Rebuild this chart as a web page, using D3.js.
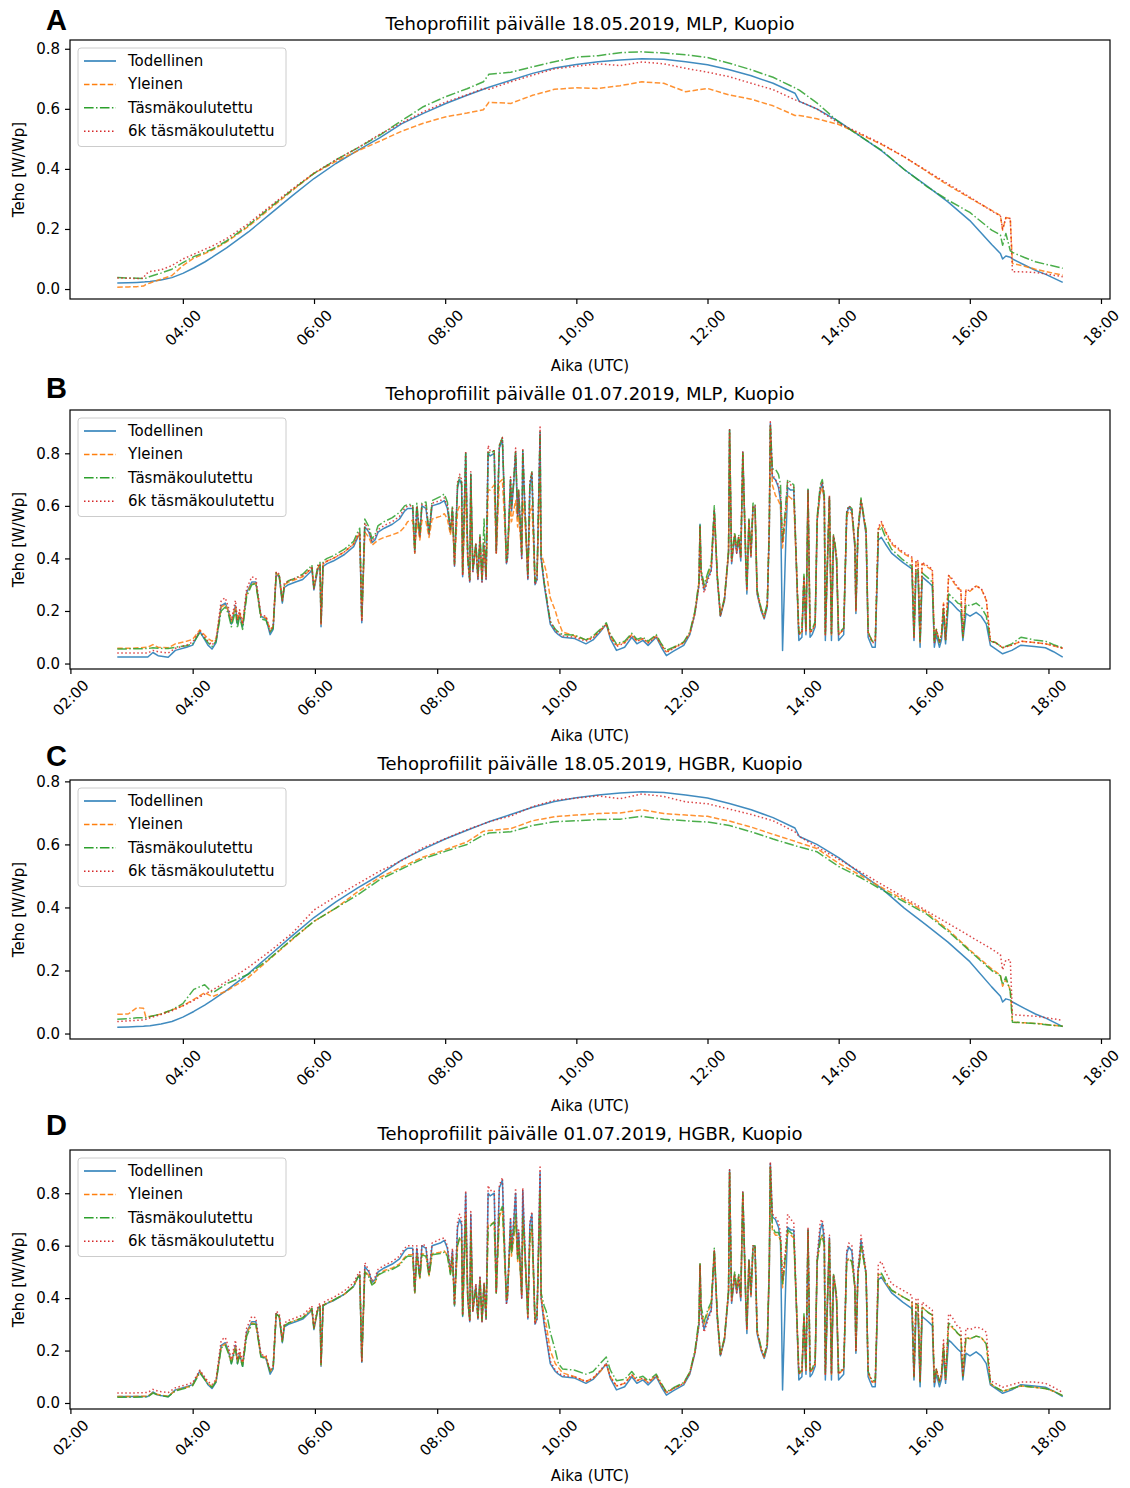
<!DOCTYPE html>
<html>
<head>
<meta charset="utf-8">
<script src="https://cdn.jsdelivr.net/npm/d3@7"></script>
<style>
  body { margin: 0; background: #fff; }
  svg { display: block; font-family: "DejaVu Sans", sans-serif; }
</style>
</head>
<body>
<div id="chart"></div>
<script>
// Series names (legend order = draw order)
const seriesNames = ['Todellinen', 'Yleinen', 'Täsmäkoulutettu', '6k täsmäkoulutettu'];
const seriesColors = ['#1f77b4', '#ff7f0e', '#2ca02c', '#d62728'];
const seriesDash = [null, '5.5,2.4', '9.6,2.4,1.5,2.4', '1.5,2.5'];

// 18.05.2019 (clear day)
const timesMay = ['03:00','03:10','03:18','03:24','03:26','03:30','03:40','03:50','04:00','04:10',
  '04:20','04:27','04:29','04:40','05:00','05:20','05:40','06:00','06:20','06:40',
  '07:00','07:20','07:40','08:00','08:20','08:35','08:40','09:00','09:20','09:40',
  '10:00','10:20','10:40','11:00','11:20','11:40','12:00','12:20','12:40','13:00',
  '13:20','13:24','13:40','14:00','14:20','14:40','15:00','15:20','15:40','16:00',
  '16:20','16:28','16:30','16:33','16:37','16:39','16:50','17:00','17:10','17:25'];

const todellinenMay = [.020,.021,.022,.023,.024,.025,.030,.038,.052,.070,
  .090,.106,.111,.137,.190,.250,.310,.368,.418,.462,
  .503,.550,.585,.617,.645,.665,.672,.695,.718,.736,
  .748,.757,.763,.767,.765,.757,.747,.730,.710,.685,
  .652,.625,.600,.558,.508,.458,.398,.345,.290,.228,
  .148,.118,.100,.110,.106,.100,.080,.062,.048,.022];

const yleinenMlpMay = [.006,.007,.008,.010,.015,.020,.033,.045,.078,.103,
  .118,.130,.134,.157,.208,.268,.328,.385,.425,.460,
  .492,.525,.552,.573,.586,.597,.622,.618,.645,.665,
  .670,.668,.677,.690,.685,.657,.668,.646,.632,.610,
  .578,.578,.567,.548,.515,.480,.440,.393,.346,.303,
  .262,.245,.196,.238,.235,.085,.076,.066,.058,.046];

const tasmaMlpMay = [.038,.037,.036,.035,.036,.042,.053,.066,.088,.108,
  .122,.133,.137,.160,.212,.272,.330,.385,.430,.470,
  .512,.560,.607,.640,.667,.690,.715,.722,.740,.757,
  .772,.777,.787,.790,.786,.780,.771,.752,.730,.705,
  .670,.662,.620,.556,.508,.460,.398,.343,.296,.255,
  .196,.180,.146,.185,.128,.122,.105,.091,.082,.069];

const tasma6kMlpMay = [.037,.036,.035,.036,.050,.058,.064,.078,.100,.116,
  .132,.143,.147,.168,.218,.276,.333,.386,.430,.470,
  .515,.553,.590,.622,.647,.668,.665,.690,.712,.733,
  .742,.750,.744,.756,.750,.735,.722,.707,.685,.664,
  .630,.625,.600,.552,.518,.482,.440,.395,.350,.306,
  .260,.243,.200,.237,.235,.058,.057,.055,.050,.041];

const yleinenHgbrMay = [.061,.062,.082,.080,.054,.054,.062,.075,.088,.108,
  .130,.117,.120,.135,.178,.238,.298,.356,.398,.450,
  .495,.528,.560,.583,.608,.642,.644,.650,.675,.688,
  .693,.698,.700,.710,.698,.693,.689,.674,.655,.632,
  .610,.605,.587,.540,.502,.462,.424,.385,.330,.265,
  .205,.185,.150,.171,.139,.036,.034,.032,.029,.023];

const tasmaHgbrMay = [.045,.047,.050,.050,.050,.054,.062,.075,.095,.140,
  .155,.130,.133,.158,.188,.240,.300,.356,.398,.440,
  .488,.522,.555,.578,.600,.630,.636,.640,.660,.672,
  .675,.679,.680,.689,.680,.675,.671,.660,.640,.617,
  .596,.592,.577,.530,.495,.455,.418,.380,.325,.262,
  .200,.183,.155,.180,.134,.036,.034,.032,.028,.023];

const tasma6kHgbrMay = [.038,.040,.042,.043,.045,.050,.060,.072,.088,.105,
  .125,.138,.142,.165,.210,.262,.318,.392,.435,.475,
  .515,.548,.590,.618,.647,.665,.672,.690,.720,.740,
  .747,.754,.745,.760,.752,.735,.729,.712,.695,.675,
  .640,.625,.592,.553,.513,.472,.431,.390,.350,.309,
  .268,.250,.202,.234,.234,.060,.057,.055,.050,.042];

// 01.07.2019 (broken clouds)
const timesJul = ['02:46','03:00','03:16','03:21','03:26','03:36','03:43','03:54','04:00','04:07',
  '04:15','04:19','04:23','04:28','04:32','04:35','04:38','04:42','04:44','04:46',
  '04:49','04:53','04:58','05:02','05:07','05:12','05:16','05:19','05:22','05:25',
  '05:28','05:30','05:34','05:41','05:48','05:56','05:57','05:59','06:03','06:05',
  '06:06','06:08','06:12','06:18','06:29','06:38','06:42','06:44','06:46','06:49',
  '06:53','06:56','06:59','07:02','07:08','07:16','07:23','07:28','07:31','07:36',
  '07:38','07:40','07:43','07:45','07:49','07:52','07:55','08:03','08:07','08:10',
  '08:13','08:15','08:17','08:20','08:22','08:24','08:25','08:28','08:30','08:32',
  '08:33','08:35','08:38','08:40','08:42','08:44','08:46','08:48','08:50','08:52',
  '08:56','08:58','09:01','09:04','09:08','09:09','09:12','09:13','09:15','09:17',
  '09:19','09:20','09:23','09:24','09:26','09:29','09:31','09:33','09:36','09:38',
  '09:41','09:42','09:45','09:47','09:51','09:56','09:59','10:03','10:15','10:26',
  '10:33','10:40','10:46','10:50','10:56','11:04','11:11','11:16','11:22','11:27',
  '11:35','11:40','11:45','11:52','12:02','12:08','12:13','12:17','12:18','12:19',
  '12:22','12:26','12:29','12:32','12:35','12:38','12:42','12:46','12:47','12:49',
  '12:52','12:54','12:56','12:58','13:00','13:03','13:04','13:06','13:08','13:10',
  '13:12','13:14','13:18','13:21','13:24','13:26','13:27','13:29','13:32','13:35',
  '13:37','13:39','13:42','13:44','13:47','13:50','13:53','13:55','13:58','14:00',
  '14:02','14:04','14:06','14:08','14:11','14:13','14:16','14:18','14:20','14:21',
  '14:23','14:25','14:27','14:29','14:30','14:32','14:34','14:39','14:42','14:44',
  '14:47','14:50','14:51','14:53','14:55','14:56','14:58','15:01','15:03','15:07',
  '15:10','15:13','15:16','15:20','15:26','15:37','15:46','15:48','15:50','15:52',
  '15:54','15:56','16:02','16:06','16:08','16:10','16:13','16:15','16:17','16:19',
  '16:22','16:25','16:31','16:34','16:36','16:39','16:43','16:49','16:54','16:59',
  '17:03','17:08','17:15','17:24','17:33','17:46','17:57','18:05','18:14'];

const todellinenJul = [.025,.025,.025,.042,.030,.024,.050,.062,.070,.122,
  .070,.055,.080,.220,.230,.200,.150,.220,.150,.190,
  .140,.270,.310,.310,.180,.170,.110,.130,.340,.330,
  .230,.290,.300,.310,.320,.350,.360,.280,.360,.370,
  .140,.370,.380,.390,.415,.445,.480,.490,.155,.520,
  .500,.460,.470,.500,.515,.530,.550,.580,.590,.590,
  .420,.590,.480,.600,.590,.490,.600,.610,.620,.590,
  .500,.580,.370,.670,.700,.680,.330,.800,.400,.310,
  .720,.350,.450,.320,.480,.310,.450,.320,.800,.790,
  .800,.420,.820,.850,.380,.400,.700,.580,.680,.800,
  .550,.650,.400,.810,.600,.320,.680,.720,.300,.320,
  .880,.400,.300,.250,.150,.120,.110,.100,.095,.075,
  .090,.120,.150,.094,.050,.062,.100,.075,.088,.069,
  .100,.062,.030,.047,.069,.110,.190,.300,.530,.350,
  .280,.330,.355,.580,.320,.180,.240,.420,.890,.380,
  .480,.420,.470,.390,.805,.367,.265,.545,.405,.595,
  .595,.265,.200,.170,.215,.510,.913,.710,.700,.670,
  .620,.050,.440,.670,.660,.660,.320,.088,.100,.320,
  .110,.660,.100,.110,.140,.545,.660,.685,.620,.088,
  .367,.630,.088,.480,.456,.390,.088,.110,.570,.595,
  .580,.440,.190,.500,.570,.620,.570,.490,.100,.062,
  .062,.470,.480,.455,.420,.385,.360,.088,.345,.340,
  .062,.330,.310,.295,.062,.110,.062,.090,.190,.075,
  .240,.230,.205,.195,.088,.190,.180,.195,.180,.150,
  .069,.056,.037,.050,.070,.065,.060,.045,.024];

const yleinenMlpJul = [.058,.058,.062,.072,.062,.060,.075,.085,.092,.128,
  .095,.085,.095,.215,.225,.200,.160,.215,.160,.195,
  .150,.265,.305,.305,.180,.175,.130,.140,.345,.330,
  .240,.300,.310,.320,.330,.360,.365,.290,.365,.375,
  .150,.380,.390,.400,.425,.455,.485,.495,.165,.500,
  .480,.450,.460,.470,.480,.490,.500,.520,.540,.545,
  .420,.545,.470,.545,.540,.480,.550,.560,.570,.550,
  .490,.560,.380,.580,.600,.590,.340,.660,.400,.320,
  .640,.360,.440,.330,.460,.320,.440,.330,.660,.660,
  .680,.420,.690,.700,.400,.420,.600,.540,.580,.620,
  .520,.560,.420,.620,.550,.340,.580,.600,.320,.340,
  .700,.420,.380,.350,.250,.200,.160,.120,.105,.090,
  .100,.125,.150,.100,.070,.080,.110,.085,.095,.080,
  .105,.070,.045,.060,.080,.115,.195,.310,.520,.350,
  .290,.340,.370,.570,.330,.185,.245,.425,.880,.390,
  .490,.430,.480,.400,.800,.380,.280,.540,.410,.590,
  .590,.275,.205,.175,.225,.520,.900,.680,.640,.620,
  .600,.440,.560,.640,.630,.620,.330,.110,.120,.330,
  .125,.650,.120,.125,.150,.550,.650,.670,.620,.110,
  .380,.630,.110,.480,.460,.400,.110,.130,.560,.580,
  .570,.450,.200,.500,.580,.620,.570,.500,.120,.085,
  .085,.510,.535,.500,.455,.420,.400,.100,.390,.385,
  .080,.380,.365,.355,.080,.130,.080,.110,.230,.090,
  .335,.320,.285,.280,.100,.280,.275,.295,.285,.240,
  .085,.080,.060,.070,.085,.080,.075,.068,.058];

const tasmaMlpJul = [.055,.056,.057,.060,.058,.057,.062,.068,.075,.118,
  .080,.065,.085,.200,.215,.190,.140,.200,.135,.180,
  .130,.255,.300,.305,.170,.165,.120,.135,.345,.335,
  .235,.300,.315,.325,.340,.370,.375,.290,.375,.385,
  .150,.390,.400,.410,.435,.465,.500,.515,.170,.550,
  .520,.475,.490,.525,.540,.555,.575,.600,.605,.605,
  .430,.610,.490,.610,.615,.500,.620,.635,.645,.615,
  .510,.600,.380,.680,.710,.690,.340,.800,.410,.320,
  .720,.360,.460,.330,.490,.320,.550,.330,.810,.800,
  .810,.430,.830,.860,.390,.410,.700,.600,.690,.810,
  .560,.660,.420,.810,.610,.330,.690,.730,.310,.330,
  .880,.410,.310,.260,.160,.130,.120,.110,.108,.090,
  .105,.130,.155,.110,.075,.085,.115,.092,.100,.085,
  .110,.075,.050,.062,.082,.120,.200,.315,.530,.360,
  .300,.350,.380,.600,.335,.185,.250,.430,.890,.400,
  .500,.440,.490,.410,.800,.390,.290,.550,.420,.610,
  .610,.280,.210,.180,.230,.530,.910,.740,.740,.720,
  .680,.460,.600,.700,.690,.680,.340,.115,.125,.340,
  .130,.670,.125,.130,.160,.560,.680,.700,.640,.115,
  .390,.640,.115,.490,.470,.410,.115,.135,.580,.600,
  .590,.460,.210,.510,.590,.630,.580,.510,.120,.085,
  .085,.500,.520,.480,.435,.395,.370,.100,.360,.355,
  .080,.345,.325,.310,.080,.130,.080,.110,.210,.090,
  .265,.255,.230,.225,.100,.225,.220,.230,.215,.180,
  .085,.080,.060,.075,.100,.090,.085,.072,.060];

const tasma6kMlpJul = [.040,.040,.040,.050,.045,.040,.058,.070,.082,.125,
  .085,.070,.090,.240,.250,.215,.165,.240,.165,.205,
  .150,.285,.330,.325,.185,.180,.125,.140,.350,.340,
  .240,.305,.315,.325,.335,.360,.370,.285,.370,.380,
  .150,.380,.390,.400,.425,.455,.490,.500,.160,.535,
  .505,.465,.480,.510,.525,.540,.560,.590,.600,.600,
  .425,.600,.485,.605,.600,.495,.610,.620,.630,.600,
  .505,.590,.375,.690,.720,.700,.335,.810,.400,.310,
  .730,.350,.455,.320,.485,.310,.460,.320,.830,.810,
  .810,.420,.830,.860,.380,.400,.710,.590,.690,.820,
  .560,.660,.400,.820,.610,.320,.690,.730,.300,.320,
  .900,.400,.310,.260,.160,.125,.115,.105,.100,.085,
  .098,.125,.150,.105,.065,.078,.108,.085,.095,.078,
  .105,.070,.042,.058,.078,.115,.190,.300,.525,.340,
  .270,.320,.350,.580,.320,.180,.245,.425,.890,.390,
  .490,.420,.480,.400,.805,.380,.280,.545,.410,.600,
  .600,.270,.205,.175,.220,.520,.920,.720,.700,.680,
  .640,.460,.580,.690,.680,.670,.330,.110,.120,.330,
  .125,.660,.120,.125,.150,.550,.670,.690,.630,.110,
  .380,.640,.110,.485,.465,.400,.110,.130,.575,.600,
  .590,.450,.200,.500,.580,.620,.580,.500,.115,.080,
  .080,.520,.540,.505,.460,.425,.405,.100,.395,.390,
  .080,.385,.370,.360,.080,.130,.080,.110,.230,.090,
  .335,.325,.290,.280,.100,.280,.278,.295,.285,.245,
  .085,.080,.060,.070,.085,.080,.075,.068,.058];

const yleinenHgbrJul = [.025,.025,.026,.040,.032,.026,.048,.060,.068,.120,
  .075,.062,.085,.215,.225,.195,.155,.215,.155,.190,
  .145,.265,.305,.300,.180,.175,.120,.135,.340,.330,
  .235,.295,.305,.315,.325,.355,.360,.285,.360,.370,
  .145,.372,.382,.392,.415,.445,.480,.488,.160,.505,
  .485,.450,.460,.490,.505,.515,.530,.555,.565,.565,
  .420,.565,.475,.570,.565,.485,.570,.575,.580,.565,
  .495,.560,.375,.600,.630,.620,.335,.720,.400,.315,
  .660,.355,.440,.325,.470,.315,.450,.325,.680,.680,
  .690,.420,.710,.740,.390,.410,.650,.560,.620,.700,
  .540,.600,.410,.700,.570,.330,.620,.660,.310,.330,
  .800,.410,.330,.300,.200,.150,.135,.115,.100,.082,
  .095,.120,.148,.100,.065,.075,.108,.085,.095,.078,
  .105,.070,.040,.055,.075,.115,.195,.310,.530,.360,
  .300,.350,.375,.580,.330,.185,.245,.425,.880,.390,
  .490,.430,.480,.400,.800,.380,.280,.540,.410,.590,
  .590,.275,.205,.175,.225,.520,.900,.660,.640,.640,
  .620,.440,.560,.650,.640,.630,.330,.110,.120,.330,
  .125,.650,.120,.125,.150,.540,.620,.640,.600,.110,
  .380,.620,.110,.480,.460,.400,.110,.130,.540,.550,
  .540,.440,.200,.490,.550,.600,.560,.490,.115,.080,
  .080,.490,.490,.460,.430,.405,.385,.100,.378,.372,
  .080,.365,.345,.335,.080,.130,.080,.110,.220,.090,
  .300,.290,.265,.255,.100,.250,.245,.255,.250,.225,
  .075,.060,.045,.055,.065,.060,.055,.045,.028];

const tasmaHgbrJul = [.022,.022,.023,.038,.030,.024,.046,.058,.066,.115,
  .072,.060,.082,.210,.220,.190,.150,.205,.150,.180,
  .140,.255,.300,.300,.175,.170,.120,.135,.340,.330,
  .235,.295,.305,.315,.325,.355,.360,.285,.360,.370,
  .145,.372,.382,.392,.415,.445,.478,.485,.160,.500,
  .480,.450,.460,.488,.500,.510,.525,.550,.560,.560,
  .420,.560,.475,.565,.560,.485,.565,.570,.575,.560,
  .490,.555,.375,.600,.630,.620,.335,.700,.400,.315,
  .650,.355,.440,.325,.470,.315,.460,.325,.670,.675,
  .690,.420,.720,.750,.400,.420,.660,.570,.640,.720,
  .550,.620,.420,.710,.580,.340,.640,.680,.320,.340,
  .800,.420,.370,.350,.270,.200,.150,.130,.125,.110,
  .120,.150,.175,.125,.085,.090,.120,.095,.102,.085,
  .110,.075,.042,.058,.078,.118,.200,.320,.530,.370,
  .310,.360,.385,.590,.335,.185,.250,.430,.880,.400,
  .500,.440,.490,.410,.800,.390,.290,.550,.420,.600,
  .600,.280,.210,.180,.230,.530,.900,.670,.650,.650,
  .620,.450,.570,.660,.650,.640,.340,.115,.125,.340,
  .130,.660,.125,.130,.160,.540,.620,.640,.600,.115,
  .390,.620,.115,.490,.470,.410,.115,.135,.540,.550,
  .540,.440,.200,.490,.550,.600,.560,.490,.120,.085,
  .085,.490,.495,.465,.430,.405,.385,.100,.378,.372,
  .080,.365,.345,.335,.080,.130,.080,.110,.220,.090,
  .305,.295,.265,.255,.100,.250,.245,.255,.250,.225,
  .075,.060,.045,.055,.065,.060,.055,.045,.028];

const tasma6kHgbrJul = [.038,.038,.040,.052,.045,.040,.058,.070,.078,.125,
  .082,.070,.090,.240,.250,.215,.165,.240,.165,.205,
  .155,.285,.330,.325,.185,.180,.125,.140,.350,.340,
  .240,.305,.315,.325,.335,.365,.370,.290,.370,.380,
  .150,.382,.392,.402,.428,.458,.490,.500,.160,.535,
  .505,.465,.480,.510,.525,.540,.560,.590,.600,.600,
  .425,.600,.485,.605,.600,.495,.610,.625,.630,.600,
  .505,.590,.375,.690,.720,.700,.335,.810,.400,.310,
  .730,.350,.455,.320,.485,.310,.460,.320,.830,.810,
  .810,.420,.830,.860,.380,.400,.710,.590,.690,.820,
  .560,.660,.400,.820,.610,.320,.690,.730,.300,.320,
  .900,.400,.310,.260,.160,.125,.115,.105,.100,.082,
  .095,.125,.150,.100,.065,.075,.108,.085,.095,.078,
  .105,.070,.040,.055,.075,.115,.190,.300,.525,.340,
  .270,.320,.350,.580,.320,.180,.245,.425,.890,.390,
  .490,.420,.480,.400,.805,.380,.280,.545,.410,.600,
  .600,.270,.205,.175,.220,.520,.920,.720,.710,.690,
  .650,.470,.590,.720,.700,.690,.330,.110,.120,.330,
  .125,.670,.120,.125,.150,.560,.690,.700,.640,.110,
  .380,.640,.110,.490,.470,.400,.110,.130,.580,.610,
  .600,.450,.200,.510,.590,.640,.590,.500,.115,.080,
  .080,.530,.540,.500,.455,.430,.410,.100,.400,.395,
  .080,.385,.365,.355,.080,.130,.080,.110,.240,.090,
  .340,.330,.290,.285,.100,.285,.280,.290,.285,.270,
  .085,.075,.060,.070,.080,.080,.075,.060,.040];

const panels = [
  { letter: 'A', title: 'Tehoprofiilit päivälle 18.05.2019, MLP, Kuopio', times: timesMay,
    series: [todellinenMay, yleinenMlpMay, tasmaMlpMay, tasma6kMlpMay] },
  { letter: 'B', title: 'Tehoprofiilit päivälle 01.07.2019, MLP, Kuopio', times: timesJul,
    series: [todellinenJul, yleinenMlpJul, tasmaMlpJul, tasma6kMlpJul] },
  { letter: 'C', title: 'Tehoprofiilit päivälle 18.05.2019, HGBR, Kuopio', times: timesMay,
    series: [todellinenMay, yleinenHgbrMay, tasmaHgbrMay, tasma6kHgbrMay] },
  { letter: 'D', title: 'Tehoprofiilit päivälle 01.07.2019, HGBR, Kuopio', times: timesJul,
    series: [todellinenJul, yleinenHgbrJul, tasmaHgbrJul, tasma6kHgbrJul] }
];

// Layout
const W = 1130, H = 1488;
const plotLeft = 70, plotRight = 1110, plotH = 259;
const rowTops = [40, 410, 780, 1150];
const letterBaselines = [30, 398, 766, 1135];

const parseTime = d3.timeParse('%H:%M');

const svg = d3.select('#chart').append('svg')
  .attr('width', W).attr('height', H)
  .attr('viewBox', [0, 0, W, H]);

svg.append('rect').attr('width', W).attr('height', H).attr('fill', '#fff');

// matplotlib-like 5% margins
function padded(extent) {
  const span = extent[1] - extent[0];
  return [extent[0] - span * 0.05, extent[1] + span * 0.05];
}

panels.forEach((p, i) => {
  const top = rowTops[i];
  const dates = p.times.map(parseTime);
  const tExt = d3.extent(dates).map(d => +d);
  const x = d3.scaleTime()
    .domain(padded(tExt).map(v => new Date(v)))
    .range([plotLeft, plotRight]);
  const y = d3.scaleLinear()
    .domain(padded(d3.extent(p.series.flat())))
    .range([top + plotH, top]);

  const g = svg.append('g');

  // Lines
  const line = d3.line()
    .x((d, j) => x(dates[j]))
    .y(d => y(d));

  p.series.forEach((vals, k) => {
    g.append('path')
      .datum(vals)
      .attr('d', line)
      .attr('fill', 'none')
      .attr('stroke', seriesColors[k])
      .attr('stroke-width', 1.5)
      .attr('stroke-opacity', 0.85)
      .attr('stroke-linejoin', 'round')
      .attr('stroke-dasharray', seriesDash[k]);
  });

  // Frame
  g.append('rect')
    .attr('x', plotLeft).attr('y', top)
    .attr('width', plotRight - plotLeft).attr('height', plotH)
    .attr('fill', 'none').attr('stroke', '#000').attr('stroke-width', 1.2);

  // Y axis
  const yAxis = g.append('g')
    .attr('transform', `translate(${plotLeft},0)`)
    .call(d3.axisLeft(y).ticks(5).tickFormat(d3.format('.1f')).tickSize(5).tickPadding(5));
  yAxis.select('.domain').remove();
  yAxis.selectAll('line').attr('stroke-width', 1.2);
  yAxis.selectAll('text').attr('font-size', 15).attr('fill', '#000')
    .attr('font-family', '"DejaVu Sans", sans-serif');

  // X axis
  const xAxis = g.append('g')
    .attr('transform', `translate(0,${top + plotH})`)
    .call(d3.axisBottom(x).ticks(d3.timeHour.every(2))
      .tickFormat(d3.timeFormat('%H:%M')).tickSize(5));
  xAxis.select('.domain').remove();
  xAxis.selectAll('line').attr('stroke-width', 1.2);
  xAxis.selectAll('text')
    .attr('y', null).attr('dy', null)
    .attr('font-size', 15).attr('fill', '#000')
    .attr('font-family', '"DejaVu Sans", sans-serif')
    .attr('text-anchor', 'middle')
    .attr('dominant-baseline', 'central')
    .attr('transform', 'translate(0,29) rotate(-45)');

  // Labels
  g.append('text')
    .attr('x', (plotLeft + plotRight) / 2).attr('y', top + plotH + 67)
    .attr('text-anchor', 'middle').attr('dominant-baseline', 'central')
    .attr('font-size', 15).text('Aika (UTC)');

  g.append('text')
    .attr('transform', `translate(19,${top + plotH / 2}) rotate(-90)`)
    .attr('text-anchor', 'middle').attr('dominant-baseline', 'central')
    .attr('font-size', 15).text('Teho [W/Wp]');

  g.append('text')
    .attr('x', (plotLeft + plotRight) / 2).attr('y', top - 10)
    .attr('text-anchor', 'middle')
    .attr('font-size', 18).text(p.title);

  g.append('text')
    .attr('x', 46).attr('y', letterBaselines[i])
    .attr('font-family', '"Liberation Sans", Arial, sans-serif')
    .attr('font-weight', 'bold')
    .attr('font-size', 29).text(p.letter);

  // Legend
  const lg = g.append('g').attr('transform', `translate(78,${top + 8})`);
  lg.append('rect')
    .attr('width', 208).attr('height', 98.5).attr('rx', 3)
    .attr('fill', '#fff').attr('fill-opacity', 0.8)
    .attr('stroke', '#cccccc').attr('stroke-width', 1);

  seriesNames.forEach((name, k) => {
    const ry = 13 + k * 23.4;
    lg.append('line')
      .attr('x1', 6).attr('x2', 38).attr('y1', ry).attr('y2', ry)
      .attr('stroke', seriesColors[k]).attr('stroke-width', 1.5)
      .attr('stroke-dasharray', seriesDash[k]);
    lg.append('text')
      .attr('x', 50).attr('y', ry)
      .attr('dominant-baseline', 'central')
      .attr('font-size', 15).text(name);
  });
});
</script>
</body>
</html>
